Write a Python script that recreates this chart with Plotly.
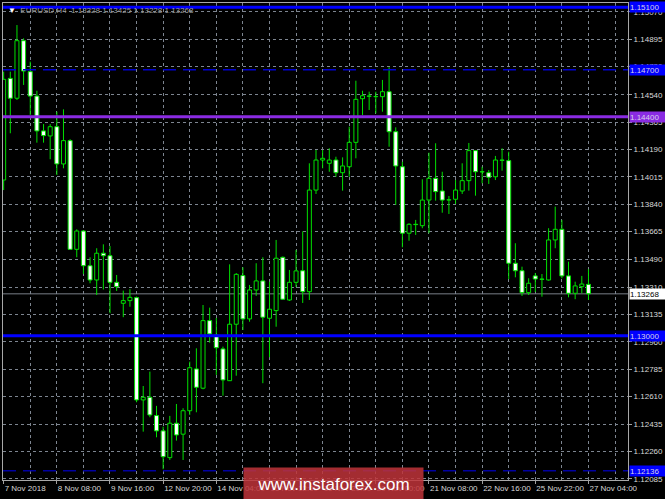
import plotly.graph_objects as go

# EURUSD H4 candles (bar index 0 = 7 Nov 2018 00:00)
opens = [1.13995, 1.14645, 1.14518, 1.14886, 1.14688, 1.14532, 1.14309, 1.14277, 1.14336, 1.14098,
         1.14247, 1.13552, 1.13669, 1.13447, 1.13356, 1.13527, 1.13511, 1.13341, 1.13207, 1.13224,
         1.13243, 1.12589, 1.12606, 1.12489, 1.12391, 1.12220, 1.12440, 1.12370, 1.12520, 1.12787,
         1.12664, 1.13096, 1.13004, 1.12915, 1.12712, 1.13073, 1.13384, 1.13107, 1.13292, 1.13350,
         1.13111, 1.13160, 1.13501, 1.13228, 1.13341, 1.13415, 1.13281, 1.13931, 1.14123, 1.14102,
         1.14123, 1.14042, 1.14080, 1.14236, 1.14515, 1.14532, 1.14528, 1.14528, 1.14560, 1.14304,
         1.14080, 1.13655, 1.13712, 1.13703, 1.13867, 1.14006, 1.13925, 1.13867, 1.13872, 1.13925,
         1.13991, 1.14183, 1.14048, 1.14042, 1.14016, 1.14123, 1.14119, 1.13463, 1.13415, 1.13275,
         1.13382, 1.13362, 1.13356, 1.13612, 1.13680, 1.13382, 1.13271, 1.13313, 1.13328]
highs = [1.14688, 1.14688, 1.14986, 1.14901, 1.14752, 1.14566, 1.14353, 1.14353, 1.14432, 1.14447,
         1.14256, 1.13680, 1.13675, 1.13501, 1.13559, 1.13584, 1.13573, 1.13388, 1.13288, 1.13297,
         1.13250, 1.12678, 1.12770, 1.12551, 1.12418, 1.12487, 1.12563, 1.12536, 1.12834, 1.12919,
         1.13196, 1.13179, 1.13113, 1.12930, 1.13456, 1.13400, 1.13437, 1.13324, 1.13463, 1.13501,
         1.13345, 1.13612, 1.13506, 1.13420, 1.13548, 1.13667, 1.14102, 1.14187, 1.14187, 1.14198,
         1.14144, 1.14140, 1.14336, 1.14630, 1.14566, 1.14560, 1.14560, 1.14635, 1.14716, 1.14332,
         1.14112, 1.13719, 1.13740, 1.14000, 1.14170, 1.14230, 1.14048, 1.13893, 1.13995, 1.14102,
         1.14232, 1.14187, 1.14080, 1.14059, 1.14149, 1.14198, 1.14176, 1.13591, 1.13441, 1.13367,
         1.13401, 1.13394, 1.13687, 1.13825, 1.13740, 1.13473, 1.13345, 1.13382, 1.13425]
lows = [1.13931, 1.14294, 1.14507, 1.14603, 1.14411, 1.14234, 1.14234, 1.14128, 1.14027, 1.14070,
        1.13548, 1.13501, 1.13394, 1.13335, 1.13260, 1.13295, 1.13143, 1.13286, 1.13118, 1.13185,
        1.12574, 1.12386, 1.12478, 1.12350, 1.12146, 1.12205, 1.12329, 1.12205, 1.12493, 1.12510,
        1.12657, 1.12955, 1.12749, 1.12616, 1.12710, 1.12744, 1.13036, 1.13089, 1.13254, 1.12696,
        1.12862, 1.13057, 1.13228, 1.13222, 1.13311, 1.13209, 1.13228, 1.13906, 1.14070, 1.14048,
        1.14016, 1.13927, 1.14016, 1.14134, 1.14411, 1.14443, 1.14422, 1.14432, 1.14208, 1.13836,
        1.13565, 1.13607, 1.13644, 1.13687, 1.13655, 1.13863, 1.13786, 1.13778, 1.13842, 1.13906,
        1.13927, 1.13895, 1.13974, 1.13970, 1.13995, 1.14055, 1.13361, 1.13373, 1.13254, 1.13260,
        1.13279, 1.13249, 1.13352, 1.13559, 1.13367, 1.13245, 1.13233, 1.13271, 1.13228]
closes = [1.14639, 1.14518, 1.14886, 1.14692, 1.14532, 1.14309, 1.14279, 1.14336, 1.14098, 1.14247,
          1.13552, 1.13669, 1.13447, 1.13356, 1.13527, 1.13511, 1.13341, 1.13313, 1.13224, 1.13245,
          1.12589, 1.12606, 1.12493, 1.12391, 1.12226, 1.12440, 1.12365, 1.12520, 1.12795, 1.12670,
          1.13096, 1.13011, 1.12923, 1.12717, 1.13073, 1.13392, 1.13107, 1.13292, 1.13350, 1.13118,
          1.13169, 1.13495, 1.13233, 1.13341, 1.13414, 1.13281, 1.13931, 1.14123, 1.14134, 1.14123,
          1.14042, 1.14085, 1.14236, 1.14511, 1.14534, 1.14531, 1.14529, 1.14560, 1.14304, 1.14085,
          1.13655, 1.13712, 1.13710, 1.13867, 1.14006, 1.13921, 1.13867, 1.13869, 1.13931, 1.13991,
          1.14183, 1.14048, 1.14047, 1.14013, 1.14123, 1.14121, 1.13463, 1.13415, 1.13275, 1.13335,
          1.13362, 1.13360, 1.13612, 1.13680, 1.13382, 1.13271, 1.13318, 1.13330, 1.13268]

time_ticks = [0, 8, 16, 24, 32, 40, 48, 56, 64, 72, 80, 88]
time_labels = ["7 Nov 2018", "8 Nov 08:00", "9 Nov 16:00", "12 Nov 20:00", "14 Nov 04:00",
               "15 Nov 12:00", "16 Nov 20:00", "20 Nov 00:00", "21 Nov 08:00", "22 Nov 16:00",
               "25 Nov 22:00", "27 Nov 04:00"]
minor_ticks = [4, 12, 20, 28, 36, 44, 52, 60, 68, 76, 84, 92]

price_labels = ["1.15070", "1.14895", "1.14720", "1.14540", "1.14365", "1.14190", "1.14015",
                "1.13840", "1.13665", "1.13490", "1.13310", "1.13135", "1.12960", "1.12785",
                "1.12610", "1.12435", "1.12260", "1.12085"]

# horizontal levels: price, colour, width, dash
levels = [(1.15100, "#0000ff", 3, "solid"),
          (1.14700, "#0000d0", 1.5, "13px,7px"),
          (1.14400, "#8a2be2", 3, "solid"),
          (1.13000, "#0000ff", 3, "solid"),
          (1.12136, "#0000a0", 1.5, "13px,7px")]
last_price = 1.13268

GREEN = "#00e000"
GRID = "#7d8590"

idx = list(range(len(opens)))
body_base = [min(o, c) for o, c in zip(opens, closes)]
body_size = [abs(c - o) for o, c in zip(opens, closes)]
body_fill = ["black" if c > o else "white" for o, c in zip(opens, closes)]

# wicks split above/below the body so they do not cross the black bodies
wx, wy = [], []
for i, o, h, l, c in zip(idx, opens, highs, lows, closes):
    wx += [i, i, None, i, i, None]
    wy += [max(o, c), h, None, l, min(o, c), None]

fig = go.Figure()
fig.add_trace(go.Scatter(x=wx, y=wy, mode="lines", line=dict(color=GREEN, width=1),
                         hoverinfo="skip", showlegend=False))
fig.add_trace(go.Bar(x=idx, y=body_size, base=body_base, width=0.6,
                     marker=dict(color=body_fill, line=dict(color=GREEN, width=1)),
                     showlegend=False))

for price, col, w, dash in levels:
    fig.add_shape(type="line", xref="paper", x0=0, x1=1, yref="y", y0=price, y1=price,
                  line=dict(color=col, width=w, dash=dash))
fig.add_shape(type="line", xref="paper", x0=0, x1=1, yref="y", y0=last_price, y1=last_price,
              line=dict(color="#50545a", width=1.5), layer="below")

# price boxes on the right scale
for price, col, w, dash in levels:
    bg = "#8a2be2" if col == "#8a2be2" else "#0000ff"
    fig.add_annotation(xref="paper", x=1, xanchor="left", xshift=1, yref="y", y=price,
                       yanchor="middle", text=f"{price:.5f}", showarrow=False, bgcolor=bg,
                       width=35, height=10, align="left", borderpad=0,
                       font=dict(family="Liberation Sans", size=8, color="#d8d0e8"))
fig.add_annotation(xref="paper", x=1, xanchor="left", xshift=1, yref="y", y=last_price,
                   yanchor="middle", text=f"{last_price:.5f}", showarrow=False, bgcolor="white",
                   width=35, height=10, align="left", borderpad=0,
                   font=dict(family="Liberation Sans", size=8, color="black"))

fig.add_annotation(xref="paper", yref="paper", x=0.005, y=0.997, xanchor="left", yanchor="top",
                   text="<span style='color:white'>▼</span>  EURUSD,H4  1.13328 1.13425 1.13228 1.13268",
                   showarrow=False, font=dict(family="Liberation Sans", size=8, color="#9a9a9a"))

fig.add_annotation(xref="paper", yref="paper", x=0.5287, y=-0.0084, xanchor="center",
                   yanchor="middle", text="www.instaforex.com", showarrow=False,
                   width=177, height=30, bgcolor="rgba(192,52,58,0.85)",
                   font=dict(family="Liberation Sans", size=17, color="white"))

axis_font = dict(family="Liberation Sans", size=8, color="#d8d8d8")
fig.update_layout(
    width=665, height=499,
    margin=dict(l=2, r=36, t=3, b=19),
    paper_bgcolor="black", plot_bgcolor="black",
    showlegend=False,
    xaxis=dict(range=[-0.1, 93.95], tickvals=time_ticks, ticktext=time_labels, tickangle=0,
               ticklabelposition="outside right", ticks="outside", ticklen=3, tickcolor="#a0a0a0",
               showgrid=True, gridcolor=GRID, griddash="3px,3px", gridwidth=1,
               minor=dict(tickvals=minor_ticks, showgrid=True, gridcolor=GRID,
                          griddash="3px,3px", ticks=""),
               showline=True, linecolor="#a8a8a8", linewidth=1, mirror=True,
               zeroline=False, tickfont=axis_font, fixedrange=True),
    yaxis=dict(range=[1.12077, 1.15127], side="right",
               tickvals=[float(t) for t in price_labels], ticktext=price_labels,
               ticks="outside", ticklen=3, tickcolor="#a0a0a0",
               showgrid=True, gridcolor=GRID, griddash="3px,3px", gridwidth=1,
               showline=True, linecolor="#a8a8a8", linewidth=1, mirror=True,
               zeroline=False, tickfont=axis_font, fixedrange=True),
)

fig.write_html("out.html", config={"displayModeBar": False},
               post_script="document.body.style.margin='0';")
